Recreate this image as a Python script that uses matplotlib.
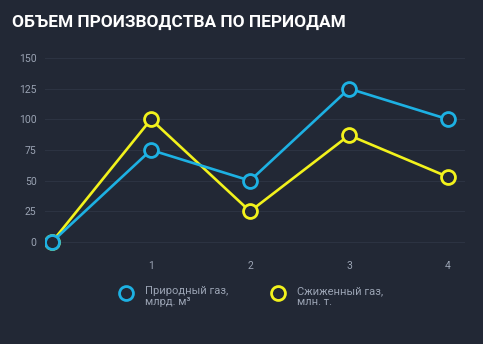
import matplotlib
matplotlib.use("Agg")
import matplotlib.pyplot as plt
from matplotlib.lines import Line2D

# данные графика
periods = [0, 1, 2, 3, 4]
gas_natural = [0, 75, 50, 125, 100]
gas_liquefied = [0, 100, 25, 87, 53]
x_ticks = [1, 2, 3, 4]
y_ticks = [0, 25, 50, 75, 100, 125, 150]
labels = ["Природный газ,\nмлрд. м³", "Сжиженный газ,\nмлн. т."]

BG = "#222835"
BLUE = "#1db1e3"
YELLOW = "#f2f21c"
TICK = "#9aa3b3"

plt.rcParams["font.family"] = ["Roboto", "DejaVu Sans"]

fig = plt.figure(figsize=(4.83, 3.44), dpi=100, facecolor=BG)
ax = fig.add_axes([45 / 483, 1 - 250 / 344, 420 / 483, 200 / 344])
ax.set_facecolor(BG)

ax.plot(periods, gas_liquefied, color=YELLOW, lw=1.9, marker="o", ms=10,
        mfc=BG, mec=YELLOW, mew=2, zorder=3)
ax.plot(periods, gas_natural, color=BLUE, lw=1.9, marker="o", ms=10,
        mfc=BG, mec=BLUE, mew=2, zorder=4)

ax.set_xlim(-0.07, 4.17)
ax.set_ylim(-6.5, 156.5)
ax.set_xticks(x_ticks)
ax.set_yticks(y_ticks)
ax.tick_params(length=0, colors=TICK, labelsize=7.5)
ax.tick_params(axis="x", pad=8)
ax.tick_params(axis="y", pad=6)
ax.grid(axis="y", color="#2c3342", lw=0.8)
for s in ax.spines.values():
    s.set_visible(False)

fig.text(12 / 483, 1 - 22 / 344, "ОБЪЕМ ПРОИЗВОДСТВА ПО ПЕРИОДАМ",
         color="white", fontsize=12.4, fontweight="bold", va="center", ha="left")

# легенда
for lx, col, lab in [(126, BLUE, labels[0]), (278, YELLOW, labels[1])]:
    fig.add_artist(Line2D([lx / 483], [1 - 293 / 344], transform=fig.transFigure,
                          marker="o", ms=10, mfc=BG, mec=col, mew=2, ls=""))
    fig.text((lx + 19) / 483, 1 - 286 / 344, lab, color=TICK, fontsize=8,
             va="top", ha="left", linespacing=1.1)

fig.savefig("out.png", dpi=100, facecolor=BG)
